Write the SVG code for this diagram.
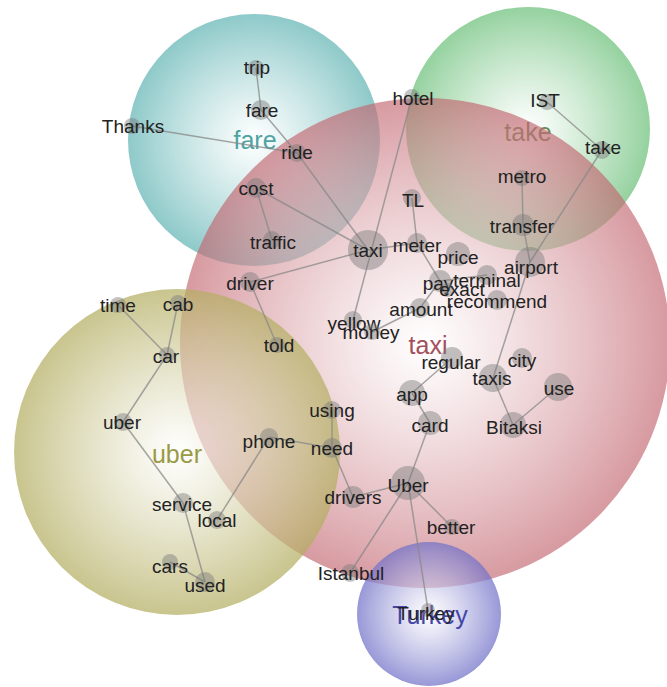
<svg xmlns="http://www.w3.org/2000/svg" width="667" height="687" viewBox="0 0 667 687">
<defs>
<radialGradient id="gFare"><stop offset="0" stop-color="#ffffff" stop-opacity="0.6"/><stop offset="1" stop-color="#62b4b4" stop-opacity="0.72"/></radialGradient>
<radialGradient id="gTake"><stop offset="0" stop-color="#ffffff" stop-opacity="0.6"/><stop offset="1" stop-color="#6cc07a" stop-opacity="0.72"/></radialGradient>
<radialGradient id="gTaxi"><stop offset="0" stop-color="#ffffff" stop-opacity="0.5"/><stop offset="1" stop-color="#c26670" stop-opacity="0.66"/></radialGradient>
<radialGradient id="gUber"><stop offset="0" stop-color="#ffffff" stop-opacity="0.6"/><stop offset="1" stop-color="#b4ae62" stop-opacity="0.72"/></radialGradient>
<radialGradient id="gTurkey"><stop offset="0" stop-color="#ffffff" stop-opacity="0.6"/><stop offset="1" stop-color="#7070c8" stop-opacity="0.72"/></radialGradient>
</defs>
<style>
.lbl{font-family:"Liberation Sans",Arial,sans-serif;font-size:25px;text-anchor:middle}
.n circle{fill:#7a7a7a;fill-opacity:0.45}
.n text{font-family:"Liberation Sans",Arial,sans-serif;font-size:19px;fill:#222;text-anchor:middle}
#edges line{stroke:#888;stroke-opacity:0.75;stroke-width:1.5}
</style>
<rect width="667" height="687" fill="#ffffff"/>
<g id="cluster-fare"><circle cx="254" cy="140" r="126" fill="url(#gFare)"/><text class="lbl" x="255" y="149" fill="#4ea3a3">fare</text></g>
<g id="cluster-take"><circle cx="528" cy="129" r="122" fill="url(#gTake)"/><text class="lbl" x="528" y="141" fill="#6b8a55">take</text></g>
<g id="cluster-taxi"><circle cx="425" cy="343" r="245" fill="url(#gTaxi)"/><text class="lbl" x="428" y="354" fill="#a3505c">taxi</text></g>
<g id="cluster-uber"><circle cx="177" cy="452" r="163" fill="url(#gUber)"/><text class="lbl" x="177" y="463" fill="#9a9a45">uber</text></g>
<g id="cluster-Turkey"><circle cx="429" cy="614" r="72" fill="url(#gTurkey)"/><text class="lbl" x="430" y="624" fill="#4646a8">Turkey</text></g>
<g id="edges">
<line x1="256" y1="68" x2="261" y2="110"/>
<line x1="261" y1="110" x2="297" y2="153"/>
<line x1="132" y1="126" x2="297" y2="153"/>
<line x1="297" y1="153" x2="368" y2="250"/>
<line x1="256" y1="188" x2="272" y2="240"/>
<line x1="256" y1="188" x2="368" y2="250"/>
<line x1="412" y1="97" x2="353" y2="320"/>
<line x1="368" y1="250" x2="250" y2="282"/>
<line x1="368" y1="250" x2="417" y2="243"/>
<line x1="412" y1="198" x2="417" y2="243"/>
<line x1="417" y1="243" x2="440" y2="281"/>
<line x1="440" y1="281" x2="487" y2="275"/>
<line x1="440" y1="281" x2="420" y2="308"/>
<line x1="420" y1="308" x2="372" y2="332"/>
<line x1="250" y1="282" x2="277" y2="345"/>
<line x1="522" y1="178" x2="523" y2="225"/>
<line x1="523" y1="225" x2="530" y2="262"/>
<line x1="547" y1="102" x2="602" y2="150"/>
<line x1="602" y1="150" x2="530" y2="262"/>
<line x1="530" y1="262" x2="493" y2="378"/>
<line x1="493" y1="378" x2="513" y2="425"/>
<line x1="513" y1="425" x2="558" y2="387"/>
<line x1="452" y1="358" x2="412" y2="393"/>
<line x1="412" y1="393" x2="430" y2="423"/>
<line x1="430" y1="423" x2="408" y2="483"/>
<line x1="332" y1="410" x2="332" y2="448"/>
<line x1="269" y1="437" x2="332" y2="448"/>
<line x1="332" y1="448" x2="353" y2="497"/>
<line x1="353" y1="497" x2="408" y2="483"/>
<line x1="408" y1="483" x2="452" y2="527"/>
<line x1="408" y1="483" x2="350" y2="573"/>
<line x1="408" y1="483" x2="428" y2="610"/>
<line x1="269" y1="437" x2="217" y2="520"/>
<line x1="118" y1="305" x2="167" y2="355"/>
<line x1="178" y1="303" x2="167" y2="355"/>
<line x1="167" y1="355" x2="123" y2="422"/>
<line x1="123" y1="422" x2="183" y2="503"/>
<line x1="183" y1="503" x2="205" y2="582"/>
<line x1="170" y1="562" x2="205" y2="582"/>
</g>
<g id="n-trip" class="n"><circle cx="256" cy="68" r="8"/><text x="257" y="74">trip</text></g>
<g id="n-fare" class="n"><circle cx="261" cy="110" r="10"/><text x="262" y="117">fare</text></g>
<g id="n-Thanks" class="n"><circle cx="132" cy="126" r="8"/><text x="133" y="133">Thanks</text></g>
<g id="n-ride" class="n"><circle cx="297" cy="153" r="9"/><text x="297" y="159">ride</text></g>
<g id="n-cost" class="n"><circle cx="256" cy="188" r="10"/><text x="256" y="195">cost</text></g>
<g id="n-traffic" class="n"><circle cx="272" cy="240" r="9"/><text x="273" y="249">traffic</text></g>
<g id="n-hotel" class="n"><circle cx="412" cy="97" r="8"/><text x="413" y="105">hotel</text></g>
<g id="n-IST" class="n"><circle cx="547" cy="102" r="8"/><text x="545" y="107">IST</text></g>
<g id="n-take" class="n"><circle cx="602" cy="150" r="9"/><text x="603" y="154">take</text></g>
<g id="n-metro" class="n"><circle cx="522" cy="178" r="8"/><text x="522" y="183">metro</text></g>
<g id="n-TL" class="n"><circle cx="412" cy="198" r="9"/><text x="413" y="207">TL</text></g>
<g id="n-transfer" class="n"><circle cx="523" cy="225" r="11"/><text x="522" y="233">transfer</text></g>
<g id="n-taxi" class="n"><circle cx="368" cy="250" r="20"/><text x="368" y="257">taxi</text></g>
<g id="n-meter" class="n"><circle cx="417" cy="243" r="10"/><text x="417" y="252">meter</text></g>
<g id="n-price" class="n"><circle cx="458" cy="254" r="12"/><text x="458" y="264">price</text></g>
<g id="n-airport" class="n"><circle cx="530" cy="262" r="15"/><text x="531" y="274">airport</text></g>
<g id="n-terminal" class="n"><circle cx="487" cy="275" r="10"/><text x="487" y="287">terminal</text></g>
<g id="n-pay" class="n"><circle cx="440" cy="281" r="11"/><text x="438" y="290">pay</text></g>
<g id="n-exact" class="n"><circle cx="447" cy="290" r="7"/><text x="462" y="296">exact</text></g>
<g id="n-recommend" class="n"><circle cx="497" cy="300" r="10"/><text x="497" y="308">recommend</text></g>
<g id="n-amount" class="n"><circle cx="420" cy="308" r="10"/><text x="421" y="316">amount</text></g>
<g id="n-yellow" class="n"><circle cx="353" cy="320" r="9"/><text x="354" y="330">yellow</text></g>
<g id="n-money" class="n"><circle cx="372" cy="332" r="8"/><text x="371" y="339">money</text></g>
<g id="n-regular" class="n"><circle cx="452" cy="358" r="11"/><text x="451" y="369">regular</text></g>
<g id="n-city" class="n"><circle cx="522" cy="358" r="10"/><text x="522" y="367">city</text></g>
<g id="n-taxis" class="n"><circle cx="493" cy="378" r="14"/><text x="492" y="385">taxis</text></g>
<g id="n-use" class="n"><circle cx="558" cy="387" r="14"/><text x="559" y="395">use</text></g>
<g id="n-app" class="n"><circle cx="412" cy="393" r="13"/><text x="412" y="401">app</text></g>
<g id="n-card" class="n"><circle cx="430" cy="423" r="12"/><text x="430" y="432">card</text></g>
<g id="n-Bitaksi" class="n"><circle cx="513" cy="425" r="13"/><text x="514" y="434">Bitaksi</text></g>
<g id="n-using" class="n"><circle cx="332" cy="410" r="9"/><text x="332" y="417">using</text></g>
<g id="n-need" class="n"><circle cx="332" cy="448" r="10"/><text x="332" y="455">need</text></g>
<g id="n-phone" class="n"><circle cx="269" cy="437" r="9"/><text x="269" y="448">phone</text></g>
<g id="n-drivers" class="n"><circle cx="353" cy="497" r="11"/><text x="353" y="504">drivers</text></g>
<g id="n-Uber" class="n"><circle cx="408" cy="483" r="17"/><text x="408" y="492">Uber</text></g>
<g id="n-better" class="n"><circle cx="452" cy="527" r="8"/><text x="451" y="534">better</text></g>
<g id="n-Istanbul" class="n"><circle cx="350" cy="573" r="9"/><text x="351" y="580">Istanbul</text></g>
<g id="n-Turkey" class="n"><circle cx="428" cy="610" r="7"/><text x="426" y="620">Turkey</text></g>
<g id="n-driver" class="n"><circle cx="250" cy="282" r="10"/><text x="250" y="290">driver</text></g>
<g id="n-told" class="n"><circle cx="277" cy="345" r="8"/><text x="279" y="352">told</text></g>
<g id="n-time" class="n"><circle cx="118" cy="305" r="8"/><text x="118" y="312">time</text></g>
<g id="n-cab" class="n"><circle cx="178" cy="303" r="8"/><text x="178" y="311">cab</text></g>
<g id="n-car" class="n"><circle cx="167" cy="355" r="8"/><text x="166" y="363">car</text></g>
<g id="n-uber" class="n"><circle cx="123" cy="422" r="9"/><text x="122" y="429">uber</text></g>
<g id="n-service" class="n"><circle cx="183" cy="503" r="10"/><text x="182" y="511">service</text></g>
<g id="n-local" class="n"><circle cx="217" cy="520" r="9"/><text x="217" y="527">local</text></g>
<g id="n-cars" class="n"><circle cx="170" cy="562" r="8"/><text x="170" y="573">cars</text></g>
<g id="n-used" class="n"><circle cx="205" cy="582" r="10"/><text x="205" y="592">used</text></g>
</svg>
